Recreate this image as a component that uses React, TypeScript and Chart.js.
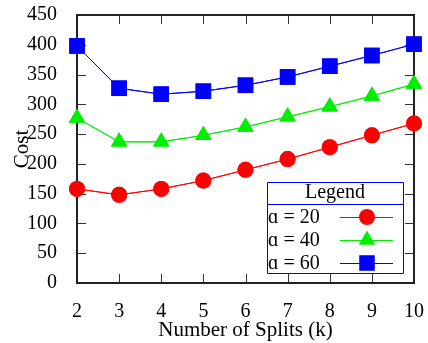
import { useEffect, useRef } from 'react';
import { Chart, registerables } from 'chart.js';

Chart.register(...registerables);

const splits = ['2', '3', '4', '5', '6', '7', '8', '9', '10'];
const costA20 = [158, 148, 158, 172, 190, 208, 228, 248, 268];
const costA40 = [277, 237, 237, 248, 262, 279, 296, 314, 334];
const costA60 = [398, 327, 317, 322, 332, 346, 364, 382, 401];
const seriesLabels = ['ɑ = 20', 'ɑ = 40', 'ɑ = 60'];
const seriesColors = ['#ff0000', '#00ee00', '#0000ff'];
const seriesStyles = ['circle', 'triangle', 'rect'];
const seriesRadius = [8, 9.5, 11];
const yMin = 0;
const yMax = 450;
const yStep = 50;

const SERIF = '"Liberation Serif", "Times New Roman", serif';
Chart.defaults.font.family = SERIF;
Chart.defaults.color = '#000';

function drawMarker(ctx: CanvasRenderingContext2D, style: string, r: number, x: number, y: number) {
  ctx.beginPath();
  if (style === 'circle') {
    ctx.arc(x, y, r, 0, Math.PI * 2);
  } else if (style === 'triangle') {
    let a = 0;
    ctx.moveTo(x + Math.sin(a) * r, y - Math.cos(a) * r);
    a += (Math.PI * 2) / 3;
    ctx.lineTo(x + Math.sin(a) * r, y - Math.cos(a) * r);
    a += (Math.PI * 2) / 3;
    ctx.lineTo(x + Math.sin(a) * r, y - Math.cos(a) * r);
    ctx.closePath();
  } else {
    const s = Math.SQRT1_2 * r;
    ctx.rect(x - s, y - s, 2 * s, 2 * s);
  }
  ctx.fill();
}

const framePlugin = {
  id: 'frameTicks',
  afterDatasetsDraw(chart: any) {
    const { ctx, chartArea } = chart;
    const { left, right, top, bottom } = chartArea;
    const xs = chart.scales.x;
    const ys = chart.scales.y;
    const tl = 9;
    ctx.save();
    ctx.strokeStyle = '#333';
    ctx.lineWidth = 1;
    ctx.beginPath();
    ys.ticks.forEach((t: any) => {
      const y = Math.round(ys.getPixelForValue(t.value)) + 0.5;
      ctx.moveTo(left, y);
      ctx.lineTo(left + tl, y);
      ctx.moveTo(right, y);
      ctx.lineTo(right - tl, y);
    });
    for (let i = 0; i < xs.ticks.length; i++) {
      const x = Math.round(xs.getPixelForValue(i)) + 0.5;
      ctx.moveTo(x, bottom);
      ctx.lineTo(x, bottom - tl);
      ctx.moveTo(x, top);
      ctx.lineTo(x, top + tl);
    }
    ctx.stroke();
    ctx.strokeStyle = '#222';
    ctx.lineWidth = 2;
    ctx.beginPath();
    ctx.moveTo(left, bottom);
    ctx.lineTo(left, top);
    ctx.lineTo(right, top);
    ctx.lineTo(right, bottom);
    ctx.lineTo(left, bottom);
    ctx.stroke();
    ctx.restore();
    // markers sit on top of the frame, as in the reference
    chart.getSortedVisibleDatasetMetas().forEach((meta: any) => {
      ctx.save();
      meta.controller.draw();
      ctx.restore();
    });
  },
};

const legendPlugin = {
  id: 'boxLegend',
  afterDraw(chart: any) {
    const { ctx, chartArea } = chart;
    const bw = 136;
    const bh = 91;
    const bx = chartArea.right - 11 - bw;
    const by = chartArea.bottom - 10 - bh;
    ctx.save();
    ctx.fillStyle = '#fff';
    ctx.fillRect(bx, by, bw, bh);
    ctx.strokeStyle = '#0000ff';
    ctx.lineWidth = 1;
    ctx.beginPath();
    ctx.moveTo(bx + 0.5, by + 0.5);
    ctx.lineTo(bx + bw + 0.5, by + 0.5);
    ctx.lineTo(bx + bw + 0.5, by + bh + 0.5);
    ctx.lineTo(bx + 0.5, by + bh + 0.5);
    ctx.closePath();
    ctx.moveTo(bx, by + 22.5);
    ctx.lineTo(bx + bw, by + 22.5);
    ctx.stroke();
    ctx.fillStyle = '#000';
    ctx.font = '20px ' + SERIF;
    ctx.textAlign = 'center';
    ctx.textBaseline = 'middle';
    ctx.fillText('Legend', bx + bw / 2, by + 11);
    ctx.textAlign = 'left';
    seriesLabels.forEach((lab, i) => {
      const cy = by + 35 + i * 23;
      ctx.fillStyle = '#000';
      ctx.fillText(lab, bx + 1, cy + 1);
      ctx.strokeStyle = seriesColors[i];
      ctx.lineWidth = 1;
      ctx.beginPath();
      ctx.moveTo(bx + 73, cy + 0.5);
      ctx.lineTo(bx + 126, cy + 0.5);
      ctx.stroke();
      ctx.fillStyle = seriesColors[i];
      drawMarker(ctx, seriesStyles[i], seriesRadius[i], bx + 100, cy);
    });
    ctx.restore();
  },
};

export default function App() {
  const ref = useRef<HTMLCanvasElement>(null);
  useEffect(() => {
    if (!ref.current) return;
    const data = [costA20, costA40, costA60];
    const chart = new Chart(ref.current, {
      type: 'line',
      data: {
        labels: splits,
        datasets: data.map((d, i) => ({
          label: seriesLabels[i],
          data: d,
          borderColor: seriesColors[i],
          backgroundColor: seriesColors[i],
          borderWidth: 1,
          pointStyle: seriesStyles[i] as any,
          pointRadius: seriesRadius[i],
          pointBorderWidth: 0,
          pointBackgroundColor: seriesColors[i],
          fill: false,
          tension: 0,
          clip: false as any,
        })),
      },
      options: {
        responsive: false,
        animation: false,
        events: [],
        layout: { padding: { left: 0, top: 15, right: 14, bottom: 0 } },
        plugins: { legend: { display: false }, tooltip: { enabled: false } },
        scales: {
          x: {
            type: 'category',
            offset: false,
            grid: { display: false },
            border: { display: true, color: '#222', width: 2 },
            ticks: { color: '#000', font: { family: SERIF, size: 20 }, padding: 9, maxRotation: 0, autoSkip: false },
            title: { display: true, text: 'Number of Splits (k)', color: '#000', font: { family: SERIF, size: 21 }, padding: { top: 0, bottom: 0 } },
            afterFit(s: any) { s.height = 60; s.paddingLeft = 0; s.paddingRight = 0; s.paddingTop = 0; s.paddingBottom = 0; },
          },
          y: {
            min: yMin,
            max: yMax,
            grid: { display: false },
            border: { display: true, color: '#222', width: 2 },
            ticks: { stepSize: yStep, color: '#000', font: { family: SERIF, size: 20 }, padding: 12 },
            title: { display: true, text: 'Cost', color: '#000', font: { family: SERIF, size: 21 }, padding: { top: 10, bottom: 0 } },
            afterFit(s: any) { s.width = 77; s.paddingLeft = 0; s.paddingRight = 0; s.paddingTop = 0; s.paddingBottom = 0; },
          },
        },
      },
      plugins: [framePlugin, legendPlugin],
    });
    return () => chart.destroy();
  }, []);
  return (
    <div style={{ position: 'fixed', left: 0, top: 0, width: 428, height: 343, background: '#fff' }}>
      <canvas ref={ref} width={428} height={343} style={{ width: 428, height: 343, display: 'block' }} />
    </div>
  );
}
